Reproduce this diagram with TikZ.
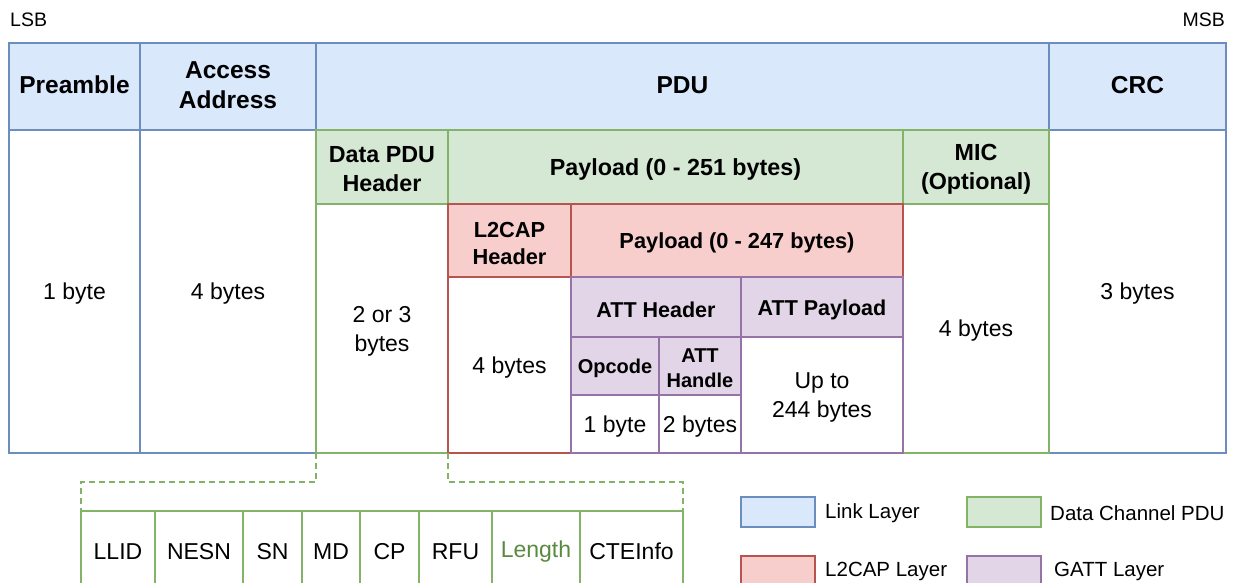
\documentclass[tikz,border=0pt]{standalone}
\usepackage{fontspec}
\setmainfont{Liberation Sans}
\definecolor{blueF}{HTML}{DAE8FC}\definecolor{blueD}{HTML}{6C8EBF}
\definecolor{greenF}{HTML}{D5E8D4}\definecolor{greenD}{HTML}{82B366}
\definecolor{redF}{HTML}{F8CECC}\definecolor{redD}{HTML}{B85450}
\definecolor{purpF}{HTML}{E1D5E7}\definecolor{purpD}{HTML}{9673A6}
\definecolor{lenC}{HTML}{5A8A40}
\def\tshift{-2.5pt}
\pgfkeys{/tikz/tshift/.store in=\tshift}
\newcommand{\cellbox}[7]{%
  \node[#2, anchor=north west, minimum width={(#5)-(#3)}, minimum height={(#6)-(#4)}] (#1) at (#3,#4) {};
  \node[#2, draw=none, fill=none, minimum width=0pt, minimum height=0pt, anchor=center, yshift=\tshift] at (#1.center) {#7};}
\tikzset{
  base/.style={draw, line width=1.3pt, inner sep=0pt, outer sep=0pt, align=center,
    font=\fontsize{23}{29}\selectfont},
  bl/.style={base, draw=blueD, fill=blueF, font=\fontsize{24.5}{30}\selectfont\bfseries, tshift=1.5pt},
  blw/.style={base, draw=blueD, fill=white},
  gr/.style={base, draw=greenD, fill=greenF, font=\fontsize{23.3}{29}\selectfont\bfseries},
  grw/.style={base, draw=greenD, fill=white},
  rd/.style={base, draw=redD, fill=redF, font=\fontsize{21.8}{27}\selectfont\bfseries},
  rdw/.style={base, draw=redD, fill=white},
  pu/.style={base, draw=purpD, fill=purpF, font=\fontsize{21.5}{27}\selectfont\bfseries},
  pus/.style={pu, font=\fontsize{20}{25}\selectfont\bfseries},
  puw/.style={base, draw=purpD, fill=white},
  fld/.style={base, draw=greenD, fill=white},
  dashlink/.style={draw=greenD, line width=1.3pt, dash pattern=on 6pt off 4pt},
  lgtxt/.style={anchor=west, inner sep=0pt, font=\fontsize{20.5}{24}\selectfont},
  edge/.style={anchor=base, inner sep=0pt, font=\fontsize{19.5}{24}\selectfont}
}
\begin{document}
\begin{tikzpicture}[x=1pt,y=-1pt]
\useasboundingbox (0,0) rectangle (1236,583);
\clip (0,0) rectangle (1236,583);
% LSB / MSB
\node[edge, anchor=base west] (lsb) at (10,27) {LSB};
\node[edge, anchor=base east] (msb) at (1225,27) {MSB};
% Link layer
\cellbox{pre}{bl}{9}{43}{140}{130}{Preamble}
\cellbox{aa}{bl}{140}{43}{316}{130}{Access\\Address}
\cellbox{pdu}{bl}{316}{43}{1049}{130}{PDU}
\cellbox{crc}{bl}{1049}{43}{1226}{130}{CRC}
\cellbox{prev}{blw}{9}{130}{140}{453}{1 byte}
\cellbox{aav}{blw}{140}{130}{316}{453}{4 bytes}
\cellbox{crcv}{blw}{1049}{130}{1226}{453}{3 bytes}
% Data channel PDU
\cellbox{hdr}{gr}{316}{130}{448}{204}{Data PDU\\Header}
\cellbox{pay}{gr}{448}{130}{903}{204}{Payload (0 - 251 bytes)}
\cellbox{mic}{gr}{903}{130}{1049}{204}{MIC\\(Optional)}
\cellbox{hdrv}{grw}{316}{204}{448}{453}{2 or 3\\bytes}
\cellbox{micv}{grw}{903}{204}{1049}{453}{4 bytes}
% L2CAP
\cellbox{l2h}{rd}{448}{204}{571}{277}{L2CAP\\Header}
\cellbox{l2p}{rd}{571}{204}{903}{277}{Payload (0 - 247 bytes)}
\cellbox{l2hv}{rdw}{448}{277}{571}{453}{4 bytes}
% GATT
\cellbox{atth}{pu}{571}{277}{741}{337}{ATT Header}
\cellbox{attp}{pu}{741}{277}{903}{337}{ATT Payload}
\cellbox{opc}{pus}{571}{337}{659}{395}{Opcode}
\cellbox{hnd}{pus}{659}{337}{741}{395}{ATT\\Handle}
\cellbox{opcv}{puw}{571}{395}{659}{453}{1 byte}
\cellbox{hndv}{puw}{659}{395}{741}{453}{2 bytes}
\cellbox{attpv}{puw}{741}{337}{903}{453}{Up to\\244 bytes}
% header fields
\cellbox{llid}{fld}{81}{511}{155}{587}{LLID}
\cellbox{nesn}{fld}{155}{511}{243}{587}{NESN}
\cellbox{sn}{fld}{243}{511}{302}{587}{SN}
\cellbox{md}{fld}{302}{511}{360}{587}{MD}
\cellbox{cp}{fld}{360}{511}{419}{587}{CP}
\cellbox{rfu}{fld}{419}{511}{492}{587}{RFU}
\cellbox{len}{fld, text=lenC}{492}{511}{580}{587}{Length}
\cellbox{cte}{fld}{580}{511}{683}{587}{CTEInfo}
% dashed expansion
\draw[dashlink] (hdrv.south west) -- ++(0,29) -| (llid.north west);
\draw[dashlink] (hdrv.south east) -- ++(0,29) -| (cte.north east);
% legend
\node[bl, anchor=north west, minimum width=74pt, minimum height=30pt] (lgl) at (741,497) {};
\node[gr, anchor=north west, minimum width=74pt, minimum height=30pt] (lgd) at (967,497) {};
\node[rd, anchor=north west, minimum width=74pt, minimum height=44pt] (lgr) at (741,556) {};
\node[pu, anchor=north west, minimum width=74pt, minimum height=44pt] (lgg) at (967,556) {};
\node[lgtxt] (tl) at (825,513) {Link Layer};
\node[lgtxt] (td) at (1050,513) {Data Channel PDU};
\node[lgtxt] (tr) at (825,571) {L2CAP Layer};
\node[lgtxt] (tg) at (1054,571) {GATT Layer};
\end{tikzpicture}
\end{document}
